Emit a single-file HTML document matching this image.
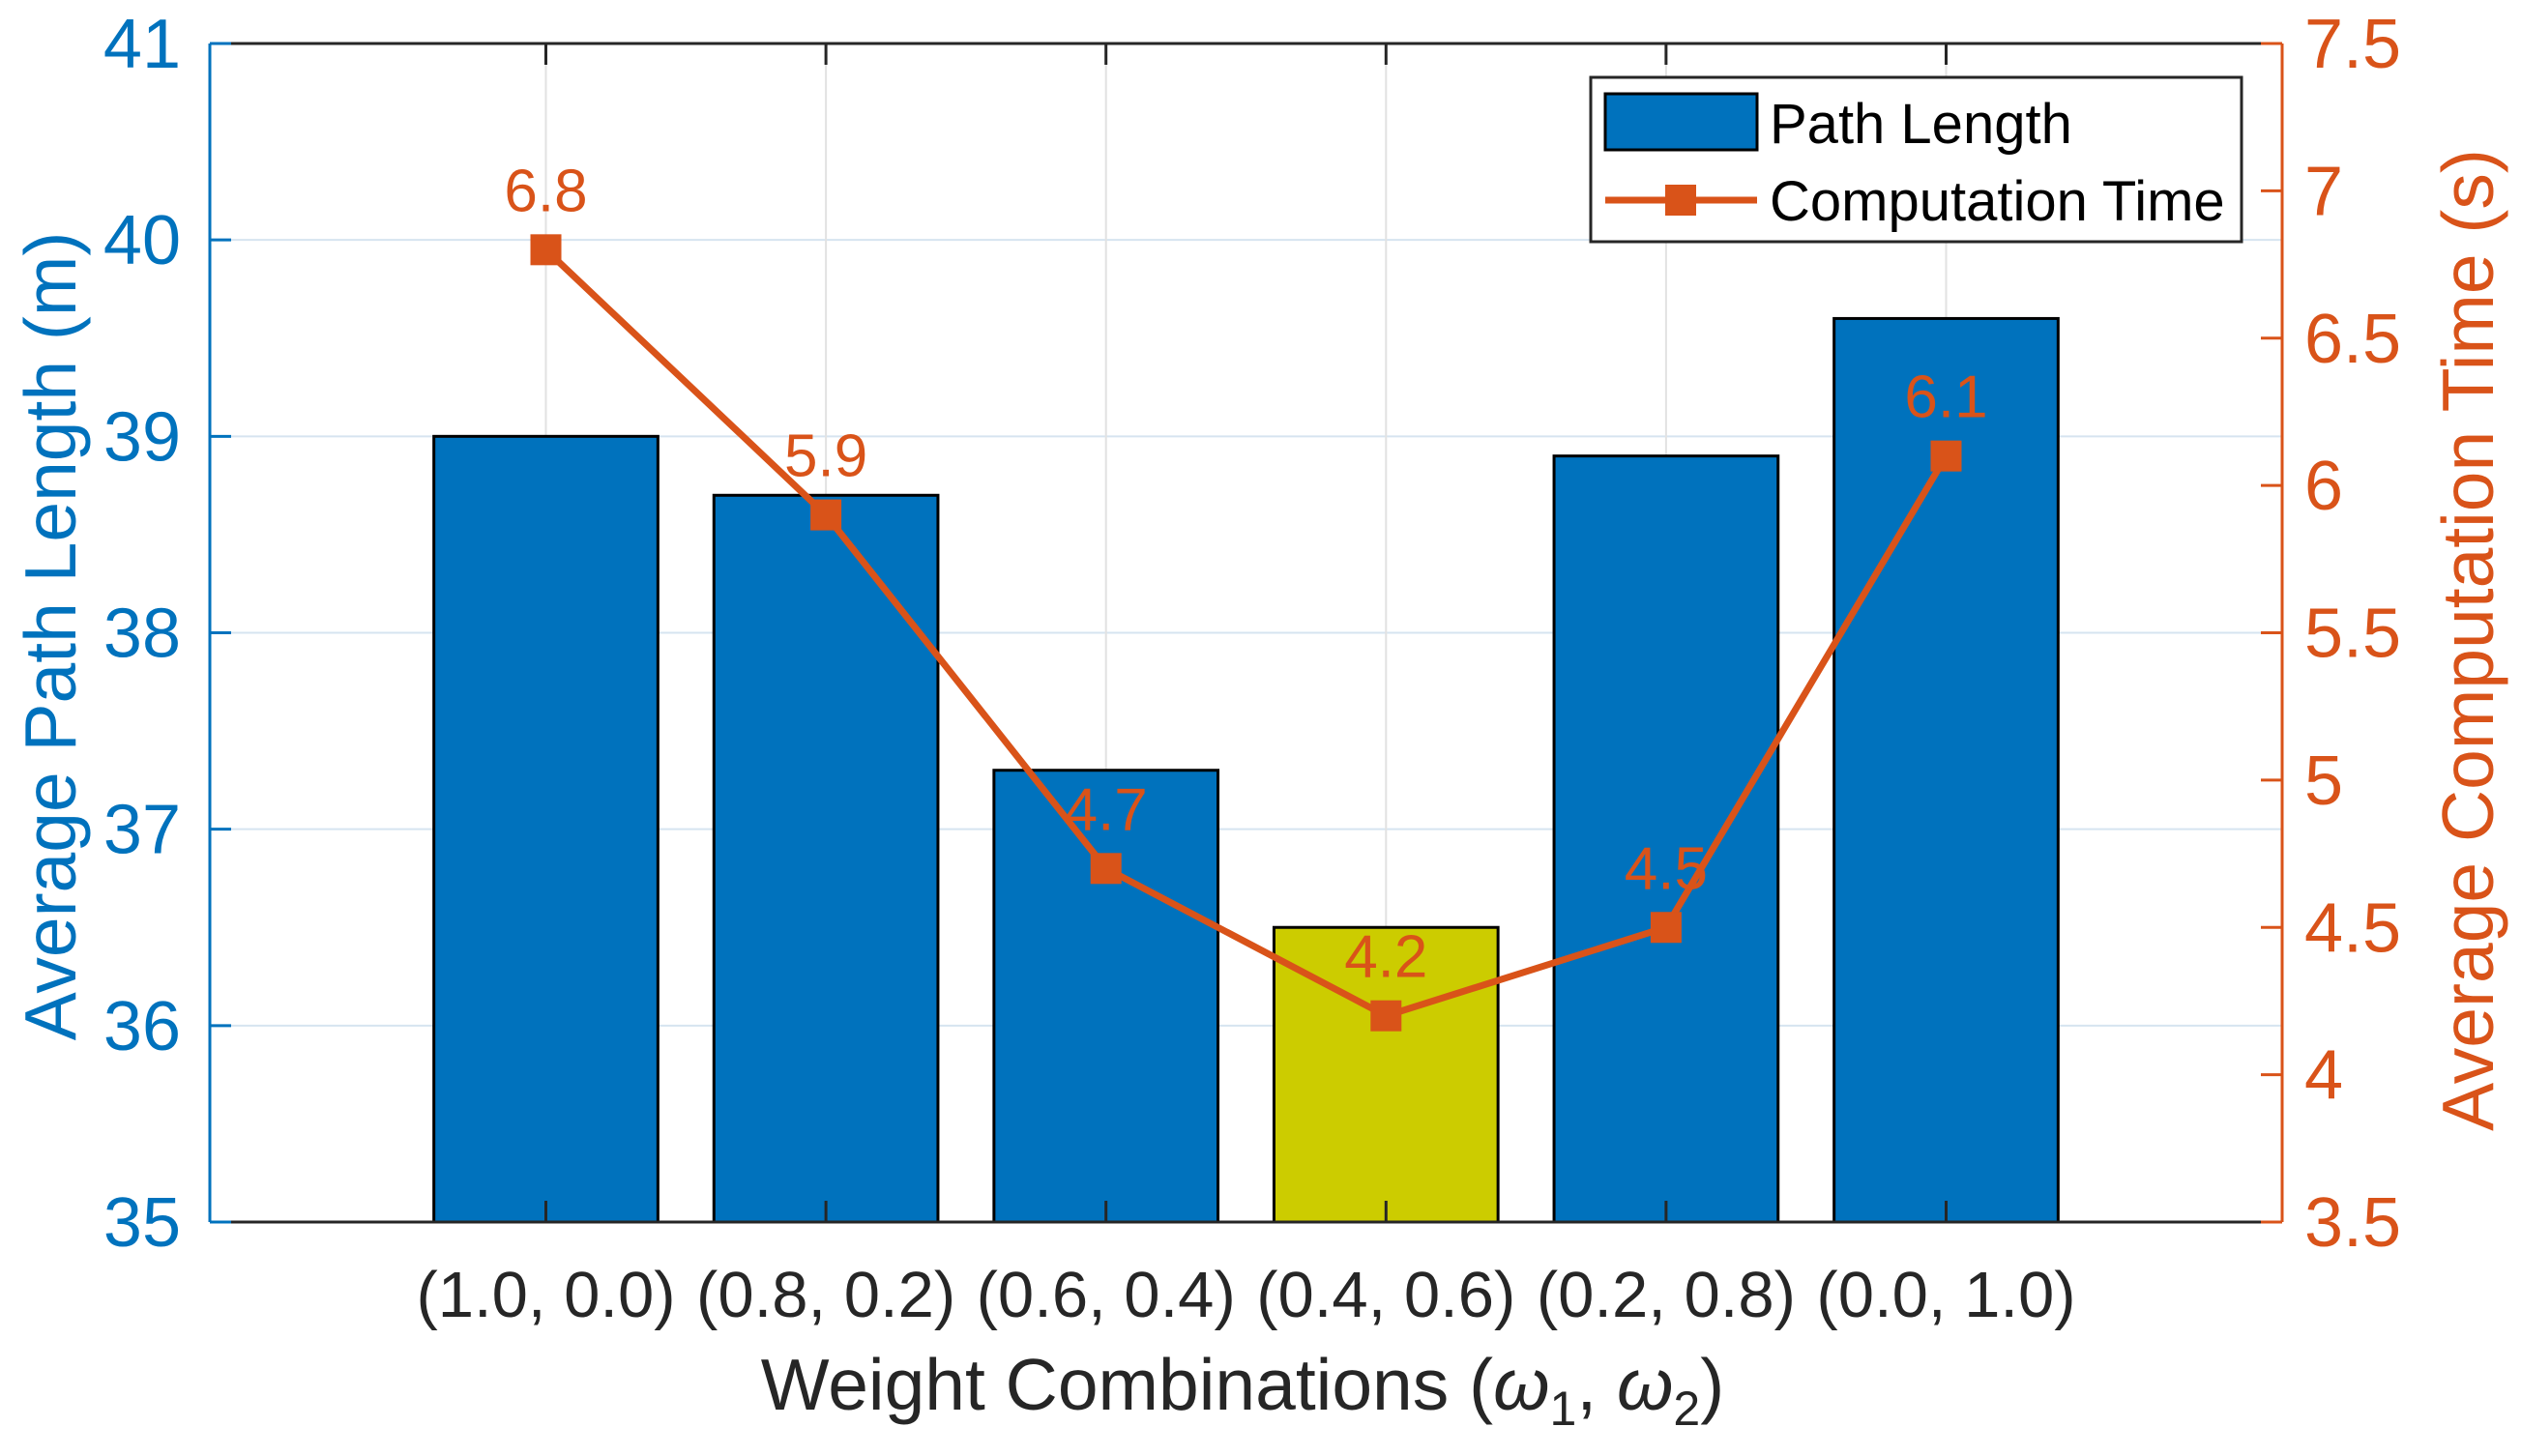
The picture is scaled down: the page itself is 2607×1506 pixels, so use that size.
<!DOCTYPE html>
<html><head><meta charset="utf-8"><style>
html,body{margin:0;padding:0;background:#fff;}
svg{display:block;font-family:"Liberation Sans",Arial,sans-serif;}
</style></head><body>
<svg id="chart" width="2607" height="1506" viewBox="0 0 2607 1506" xmlns="http://www.w3.org/2000/svg"></svg>
<script>
const categories = ["(1.0, 0.0)","(0.8, 0.2)","(0.6, 0.4)","(0.4, 0.6)","(0.2, 0.8)","(0.0, 1.0)"];
const pathLength = [39.0, 38.7, 37.3, 36.5, 38.9, 39.6];
const compTime = [6.8, 5.9, 4.7, 4.2, 4.5, 6.1];
const highlightIndex = 3;
const leftTicks = [35,36,37,38,39,40,41];
const rightTicks = [3.5,4,4.5,5,5.5,6,6.5,7,7.5];

const NS="http://www.w3.org/2000/svg";
const svg=document.getElementById('chart');
const L=217,R=2360,T=45,B=1264;
const BLUE="#0072BD",ORANGE="#D95319";
const xS=i=>L+(i+1+0.2)/7.4*(R-L);
const yL=v=>B-(v-35)/6*(B-T);
const yR=v=>B-(v-3.5)/4*(B-T);
const step=(R-L)/7.4;
function mk(tag,attrs,parent){const e=document.createElementNS(NS,tag);for(const k in attrs)e.setAttribute(k,attrs[k]);(parent||svg).appendChild(e);return e;}

// grid
for(const t of leftTicks){if(t===35||t===41)continue;
 const g=mk('line',{x1:L,x2:R,y1:yL(t),y2:yL(t),stroke:"#d6e4f0","stroke-width":2});
 
 }
categories.forEach((c,i)=>{
 const g=mk('line',{x1:xS(i),x2:xS(i),y1:T,y2:B,stroke:"#e2e2e2","stroke-width":2});
 
 });

// bars
pathLength.forEach((v,i)=>{
 const w=0.8*step;
 const r=mk('rect',{x:xS(i)-w/2,y:yL(v),width:w,height:B-yL(v),fill:i===highlightIndex?"#CCCC00":BLUE,stroke:"#000","stroke-width":3});
 
 });

// axes
let a=mk('line',{x1:L,x2:R,y1:T,y2:T,stroke:"#262626","stroke-width":3});

a=mk('line',{x1:L,x2:R,y1:B,y2:B,stroke:"#262626","stroke-width":3});

a=mk('line',{x1:L,x2:L,y1:T,y2:B,stroke:BLUE,"stroke-width":3});

a=mk('line',{x1:R,x2:R,y1:T,y2:B,stroke:ORANGE,"stroke-width":3});


categories.forEach((c,i)=>{
 mk('line',{x1:xS(i),x2:xS(i),y1:B,y2:B-22,stroke:"#262626","stroke-width":3});
 mk('line',{x1:xS(i),x2:xS(i),y1:T,y2:T+22,stroke:"#262626","stroke-width":3});
 const t=mk('text',{x:xS(i),y:1362,"text-anchor":"middle","font-size":67,fill:"#262626"});t.textContent=c;
 
 });
leftTicks.forEach(v=>{
 mk('line',{x1:L,x2:L+22,y1:yL(v),y2:yL(v),stroke:BLUE,"stroke-width":3});
 const t=mk('text',{x:187,y:yL(v)+25,"text-anchor":"end","font-size":72,fill:BLUE});t.textContent=v;
 
 });
rightTicks.forEach(v=>{
 mk('line',{x1:R,x2:R-22,y1:yR(v),y2:yR(v),stroke:ORANGE,"stroke-width":3});
 const t=mk('text',{x:2383,y:yR(v)+25,"text-anchor":"start","font-size":72,fill:ORANGE});t.textContent=v;
 
 });

// line series
const pts=compTime.map((v,i)=>xS(i)+','+yR(v)).join(' ');
let pl=mk('polyline',{points:pts,fill:"none",stroke:ORANGE,"stroke-width":7});


compTime.forEach((v,i)=>{
 const m=mk('rect',{x:xS(i)-16,y:yR(v)-16,width:32,height:32,fill:ORANGE});
 
 
 const t=mk('text',{x:xS(i),y:yR(v)-40,"text-anchor":"middle","font-size":62,fill:ORANGE});t.textContent=v.toFixed(1);
 
 });

// axis titles
let t=mk('text',{x:0,y:0,"text-anchor":"middle","font-size":75,fill:BLUE,transform:"translate(78,658) rotate(-90)"});
t.textContent="Average Path Length (m)";

t=mk('text',{x:0,y:0,"text-anchor":"middle","font-size":75,fill:ORANGE,transform:"translate(2578,662) rotate(-90)"});
t.textContent="Average Computation Time (s)";

t=mk('text',{x:1285,y:1458,"text-anchor":"middle","font-size":75,fill:"#262626"});
t.innerHTML='Weight Combinations (<tspan font-style="italic">ω</tspan><tspan font-size="50" dy="16">1</tspan><tspan dy="-16">, </tspan><tspan font-style="italic">ω</tspan><tspan font-size="50" dy="16">2</tspan><tspan dy="-16">)</tspan>';


// legend
const lg=mk('g',{});

mk('rect',{x:1645,y:80,width:673,height:170,fill:"#fff",stroke:"#262626","stroke-width":3},lg);
let e=mk('rect',{x:1660,y:97,width:157,height:58,fill:BLUE,stroke:"#000","stroke-width":3},lg);

t=mk('text',{x:1830,y:148,"font-size":58,fill:"#000"},lg);t.textContent="Path Length";

e=mk('line',{x1:1660,x2:1817,y1:207,y2:207,stroke:ORANGE,"stroke-width":7},lg);

mk('rect',{x:1722,y:191,width:32,height:32,fill:ORANGE},lg);
t=mk('text',{x:1830,y:228,"font-size":58,fill:"#000"},lg);t.textContent="Computation Time";

</script>
</body></html>
